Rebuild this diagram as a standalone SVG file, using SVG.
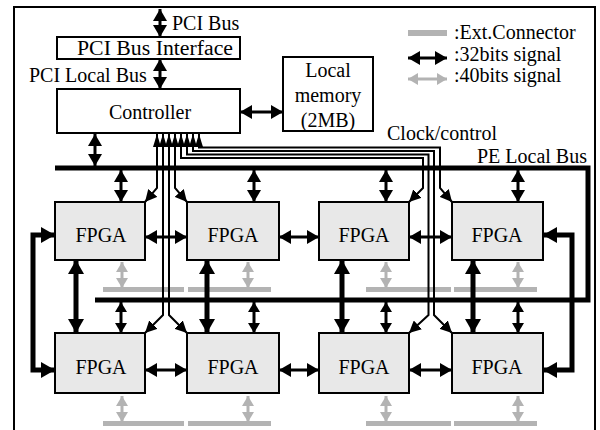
<svg xmlns="http://www.w3.org/2000/svg" width="600" height="430" viewBox="0 0 600 430">
<style>
text{font-family:"Liberation Serif","Times New Roman",serif;font-size:20px;fill:#000}
.c{text-anchor:middle}
.box{fill:#fff;stroke:#000;stroke-width:2}
.fpga{fill:#e8e8e8;stroke:#000;stroke-width:2}
.bar{fill:#b3b3b3}
.bus{fill:none;stroke:#000;stroke-width:5}
.a3{fill:none;stroke:#000;stroke-width:3}
.a5{fill:none;stroke:#000;stroke-width:5}
.g3{fill:none;stroke:#b3b3b3;stroke-width:3}
.clk{fill:none;stroke:#000;stroke-width:2}
</style>
<defs>
<marker id="mA" viewBox="0 0 12 14" refX="12" refY="7" markerWidth="12" markerHeight="14" markerUnits="userSpaceOnUse" orient="auto-start-reverse"><path d="M0,0L12,7L0,14z" fill="#000"/></marker>
<marker id="mB" viewBox="0 0 14 16" refX="14" refY="8" markerWidth="14" markerHeight="16" markerUnits="userSpaceOnUse" orient="auto-start-reverse"><path d="M0,0L14,8L0,16z" fill="#000"/></marker>
<marker id="mS" viewBox="0 0 10 12" refX="10" refY="6" markerWidth="10" markerHeight="12" markerUnits="userSpaceOnUse" orient="auto-start-reverse"><path d="M0,0L10,6L0,12z" fill="#000"/></marker>
<marker id="mG" viewBox="0 0 10 12" refX="10" refY="6" markerWidth="10" markerHeight="12" markerUnits="userSpaceOnUse" orient="auto-start-reverse"><path d="M0,0L10,6L0,12z" fill="#b3b3b3"/></marker>
<marker id="mC" viewBox="0 0 13 8" refX="13" refY="4" markerWidth="13" markerHeight="8" markerUnits="userSpaceOnUse" orient="auto-start-reverse"><path d="M0,0L13,4L0,8z" fill="#000"/></marker>
<marker id="mD" viewBox="0 0 12 12" refX="12" refY="6" markerWidth="12" markerHeight="12" markerUnits="userSpaceOnUse" orient="auto-start-reverse"><path d="M0,0L12,6L0,12z" fill="#000"/></marker>
</defs>
<rect x="0" y="0" width="600" height="430" fill="#fff"/>
<rect x="14" y="7" width="581" height="432" fill="none" stroke="#000" stroke-width="2"/>

<g id="legend">
<rect class="bar" x="408" y="30" width="39" height="6"/>
<path class="a3" d="M408,58H447" marker-start="url(#mA)" marker-end="url(#mA)"/>
<path class="g3" d="M408,79H447" marker-start="url(#mG)" marker-end="url(#mG)"/>
<text x="454" y="39">:Ext.Connector</text>
<text x="454" y="61">:32bits signal</text>
<text x="454" y="82">:40bits signal</text>
</g>

<g id="ext-connectors">
<rect class="bar" x="103" y="287" width="81" height="5"/>
<rect class="bar" x="188" y="287" width="83" height="5"/>
<rect class="bar" x="366" y="287" width="85" height="5"/>
<rect class="bar" x="454" y="287" width="83" height="5"/>
<rect class="bar" x="103" y="421" width="81" height="5"/>
<rect class="bar" x="188" y="421" width="83" height="5"/>
<rect class="bar" x="366" y="421" width="85" height="5"/>
<rect class="bar" x="454" y="421" width="83" height="5"/>
</g>

<g id="pe-local-bus">
<path class="bus" d="M55,168H588V300H95"/>
<text x="477" y="163">PE Local Bus</text>
</g>

<g id="connectors">
<path class="a3" d="M160,9V37" marker-start="url(#mA)" marker-end="url(#mA)"/>
<path class="a3" d="M160,59V89" marker-start="url(#mA)" marker-end="url(#mA)"/>
<path class="a3" d="M240,112H283" marker-start="url(#mA)" marker-end="url(#mA)"/>
<path class="a3" d="M95,134V166" marker-start="url(#mA)" marker-end="url(#mA)"/>
<path class="a3" d="M121,170V202" marker-start="url(#mA)" marker-end="url(#mA)"/>
<path class="a3" d="M254,170V202" marker-start="url(#mA)" marker-end="url(#mA)"/>
<path class="a3" d="M386,170V202" marker-start="url(#mA)" marker-end="url(#mA)"/>
<path class="a3" d="M518,170V202" marker-start="url(#mA)" marker-end="url(#mA)"/>
<path class="a3" d="M121,302V333" marker-start="url(#mS)" marker-end="url(#mS)"/>
<path class="a3" d="M254,302V333" marker-start="url(#mS)" marker-end="url(#mS)"/>
<path class="a3" d="M386,302V333" marker-start="url(#mS)" marker-end="url(#mS)"/>
<path class="a3" d="M518,302V333" marker-start="url(#mS)" marker-end="url(#mS)"/>
<path class="clk" d="M157,134V188L145,202" marker-start="url(#mC)" marker-end="url(#mD)"/>
<path class="clk" d="M163,134V315L145,333" marker-start="url(#mC)" marker-end="url(#mD)"/>
<path class="clk" d="M169,134V315L187,333" marker-start="url(#mC)" marker-end="url(#mD)"/>
<path class="clk" d="M175,134V188L187,202" marker-start="url(#mC)" marker-end="url(#mD)"/>
<path class="clk" d="M181,134V158H423V188L409,202" marker-start="url(#mC)" marker-end="url(#mD)"/>
<path class="clk" d="M187,134V154.5H428.5V315L409,333" marker-start="url(#mC)" marker-end="url(#mD)"/>
<path class="clk" d="M193,134V151H434V315L452,333" marker-start="url(#mC)" marker-end="url(#mD)"/>
<path class="clk" d="M199,134V147.5H440V188L452,202" marker-start="url(#mC)" marker-end="url(#mD)"/>
<path class="a3" d="M145,237H187" marker-start="url(#mA)" marker-end="url(#mA)"/>
<path class="a3" d="M279,237H319" marker-start="url(#mA)" marker-end="url(#mA)"/>
<path class="a3" d="M409,237H452" marker-start="url(#mA)" marker-end="url(#mA)"/>
<path class="a3" d="M145,370H187" marker-start="url(#mA)" marker-end="url(#mA)"/>
<path class="a3" d="M279,370H319" marker-start="url(#mA)" marker-end="url(#mA)"/>
<path class="a3" d="M409,370H452" marker-start="url(#mA)" marker-end="url(#mA)"/>
<path class="a5" d="M55,235H33V370H55" marker-start="url(#mB)" marker-end="url(#mB)"/>
<path class="a5" d="M543,235H572V370H543" marker-start="url(#mB)" marker-end="url(#mB)"/>
<path class="a5" d="M76,260V333" marker-start="url(#mB)" marker-end="url(#mB)"/>
<path class="a5" d="M207,260V333" marker-start="url(#mB)" marker-end="url(#mB)"/>
<path class="a5" d="M342,260V333" marker-start="url(#mB)" marker-end="url(#mB)"/>
<path class="a5" d="M473,260V333" marker-start="url(#mB)" marker-end="url(#mB)"/>
<path class="g3" d="M122,262V288" marker-start="url(#mG)" marker-end="url(#mG)"/>
<path class="g3" d="M248,262V288" marker-start="url(#mG)" marker-end="url(#mG)"/>
<path class="g3" d="M386,262V288" marker-start="url(#mG)" marker-end="url(#mG)"/>
<path class="g3" d="M518,262V288" marker-start="url(#mG)" marker-end="url(#mG)"/>
<path class="g3" d="M122,396V422" marker-start="url(#mG)" marker-end="url(#mG)"/>
<path class="g3" d="M248,396V422" marker-start="url(#mG)" marker-end="url(#mG)"/>
<path class="g3" d="M386,396V422" marker-start="url(#mG)" marker-end="url(#mG)"/>
<path class="g3" d="M518,396V422" marker-start="url(#mG)" marker-end="url(#mG)"/>
</g>

<text x="172" y="30">PCI Bus</text>
<text x="29" y="82">PCI Local Bus</text>
<text x="387" y="140">Clock/control</text>

<g id="pci-bus-interface">
<rect class="box" x="57" y="37" width="183" height="22"/>
<text x="77" y="55" textLength="156" lengthAdjust="spacingAndGlyphs">PCI Bus Interface</text>
</g>
<g id="controller">
<rect class="box" x="57" y="89" width="183" height="44"/>
<text class="c" x="150" y="119">Controller</text>
</g>
<g id="local-memory">
<rect class="box" x="283" y="57" width="90" height="74"/>
<text class="c" x="328" y="77">Local</text>
<text class="c" x="328" y="102">memory</text>
<text class="c" x="328" y="127">(2MB)</text>
</g>

<g id="fpga1"><rect class="fpga" x="55" y="202" width="90" height="58"/><text class="c" x="101" y="242">FPGA</text></g>
<g id="fpga2"><rect class="fpga" x="187" y="202" width="92" height="58"/><text class="c" x="233" y="242">FPGA</text></g>
<g id="fpga3"><rect class="fpga" x="319" y="202" width="90" height="58"/><text class="c" x="364" y="242">FPGA</text></g>
<g id="fpga4"><rect class="fpga" x="452" y="202" width="91" height="58"/><text class="c" x="497" y="242">FPGA</text></g>
<g id="fpga5"><rect class="fpga" x="55" y="333" width="90" height="60"/><text class="c" x="101" y="374">FPGA</text></g>
<g id="fpga6"><rect class="fpga" x="187" y="333" width="92" height="60"/><text class="c" x="233" y="374">FPGA</text></g>
<g id="fpga7"><rect class="fpga" x="319" y="333" width="90" height="60"/><text class="c" x="364" y="374">FPGA</text></g>
<g id="fpga8"><rect class="fpga" x="452" y="333" width="91" height="60"/><text class="c" x="497" y="374">FPGA</text></g>
</svg>
